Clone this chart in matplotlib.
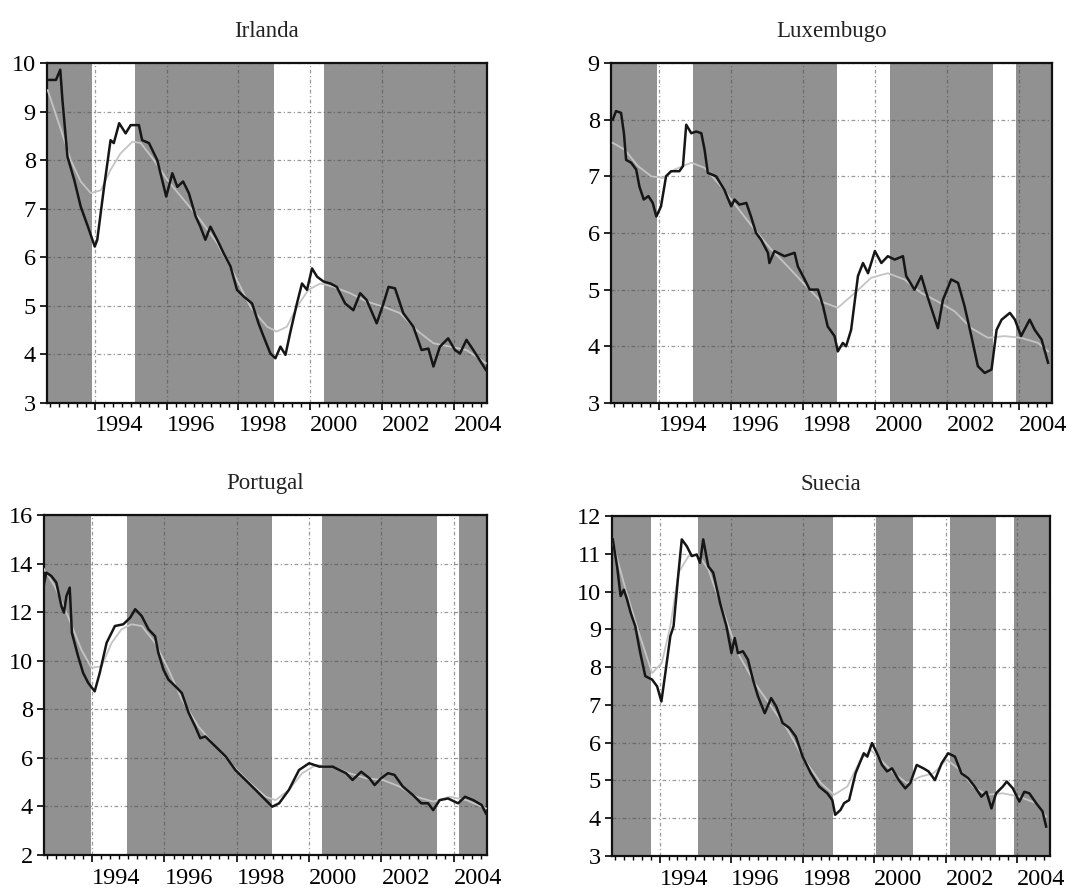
"""Tipos de interés: serie observada y tendencia, cuatro países."""
import matplotlib
matplotlib.use("Agg")
import matplotlib.pyplot as plt
from matplotlib.ticker import MultipleLocator

plt.rcParams["font.family"] = ["Liberation Serif", "DejaVu Serif"]

# Irlanda
irl_t = [1992.69, 1992.92, 1993.04, 1993.10, 1993.24, 1993.43, 1993.61, 1993.81, 1994.00, 1994.07,
         1994.26, 1994.44, 1994.53, 1994.68, 1994.86, 1995.00, 1995.23, 1995.32, 1995.51, 1995.74,
         1995.99, 1996.16, 1996.30, 1996.46, 1996.62, 1996.81, 1996.94, 1997.08, 1997.22, 1997.41,
         1997.59, 1997.78, 1997.96, 1998.15, 1998.38, 1998.56, 1998.70, 1998.89, 1999.03, 1999.17,
         1999.31, 1999.44, 1999.63, 1999.77, 1999.91, 2000.05, 2000.19, 2000.37, 2000.56, 2000.74,
         2000.97, 2001.20, 2001.39, 2001.57, 2001.85, 2002.04, 2002.18, 2002.36, 2002.59, 2002.87,
         2003.10, 2003.29, 2003.43, 2003.61, 2003.84, 2004.03, 2004.17, 2004.35, 2004.54, 2004.72,
         2004.89]
irl_y = [9.65, 9.65, 9.86, 9.24, 8.07, 7.59, 7.04, 6.63, 6.22, 6.36,
         7.45, 8.41, 8.35, 8.76, 8.55, 8.72, 8.72, 8.41, 8.35, 8.00,
         7.25, 7.73, 7.45, 7.56, 7.32, 6.84, 6.63, 6.36, 6.63, 6.36,
         6.08, 5.81, 5.33, 5.19, 5.05, 4.64, 4.37, 4.02, 3.92, 4.16,
         3.99, 4.44, 5.05, 5.46, 5.33, 5.77, 5.60, 5.50, 5.46, 5.39,
         5.05, 4.91, 5.26, 5.12, 4.64, 5.05, 5.39, 5.36, 4.85, 4.57,
         4.09, 4.12, 3.75, 4.16, 4.33, 4.09, 4.02, 4.30, 4.09, 3.88,
         3.68]
irl_trend_t = [1992.69, 1993.06, 1993.33, 1993.61, 1993.89, 1994.17, 1994.44, 1994.72, 1995.05, 1995.28,
               1995.65, 1996.02, 1996.48, 1996.94, 1997.41, 1997.87, 1998.33, 1998.80, 1999.07, 1999.35,
               1999.63, 1999.95, 2000.28, 2000.65, 2001.11, 2001.57, 2002.04, 2002.50, 2002.96, 2003.43,
               2003.89, 2004.35, 2004.89]
irl_trend = [9.44, 8.62, 8.00, 7.56, 7.32, 7.38, 7.80, 8.14, 8.38, 8.35,
             8.00, 7.59, 7.18, 6.77, 6.29, 5.67, 4.98, 4.57, 4.47, 4.57,
             4.98, 5.33, 5.46, 5.39, 5.26, 5.09, 4.98, 4.85, 4.50, 4.23,
             4.16, 4.09, 3.82]
irl_bands = [(1993.93, 1995.11), (1999.00, 2000.39)]

# Luxemburgo
lux_t = [1992.72, 1992.81, 1992.95, 1993.03, 1993.09, 1993.23, 1993.37, 1993.46, 1993.58, 1993.71,
         1993.83, 1993.93, 1994.06, 1994.20, 1994.34, 1994.57, 1994.67, 1994.76, 1994.90, 1995.04,
         1995.18, 1995.27, 1995.36, 1995.59, 1995.82, 1996.01, 1996.10, 1996.24, 1996.43, 1996.56,
         1996.70, 1996.84, 1997.03, 1997.07, 1997.21, 1997.49, 1997.77, 1997.86, 1998.05, 1998.19,
         1998.42, 1998.56, 1998.69, 1998.88, 1998.97, 1999.11, 1999.20, 1999.34, 1999.53, 1999.67,
         1999.81, 2000.00, 2000.18, 2000.36, 2000.55, 2000.78, 2000.87, 2001.10, 2001.29, 2001.43,
         2001.61, 2001.75, 2001.89, 2002.12, 2002.31, 2002.49, 2002.68, 2002.86, 2003.05, 2003.24,
         2003.38, 2003.52, 2003.75, 2003.89, 2004.06, 2004.30, 2004.44, 2004.63, 2004.81]
lux_y = [8.00, 8.15, 8.12, 7.76, 7.29, 7.24, 7.12, 6.82, 6.59, 6.65,
         6.53, 6.29, 6.47, 7.00, 7.09, 7.09, 7.18, 7.91, 7.76, 7.79,
         7.76, 7.47, 7.06, 7.00, 6.76, 6.47, 6.59, 6.50, 6.53, 6.29,
         6.00, 5.88, 5.65, 5.47, 5.68, 5.59, 5.65, 5.41, 5.18, 5.00,
         5.00, 4.71, 4.35, 4.18, 3.91, 4.06, 4.00, 4.29, 5.24, 5.47,
         5.29, 5.68, 5.47, 5.59, 5.53, 5.59, 5.24, 5.00, 5.24, 4.94,
         4.59, 4.32, 4.82, 5.18, 5.12, 4.71, 4.18, 3.65, 3.53, 3.59,
         4.29, 4.47, 4.59, 4.47, 4.18, 4.47, 4.29, 4.12, 3.71]
lux_trend_t = [1992.72, 1993.05, 1993.42, 1993.79, 1994.11, 1994.44, 1994.90, 1995.27, 1995.73, 1996.19,
               1996.66, 1997.12, 1997.58, 1998.05, 1998.51, 1998.97, 1999.44, 1999.90, 2000.36, 2000.82,
               2001.29, 2001.75, 2002.21, 2002.68, 2003.14, 2003.60, 2004.06, 2004.53, 2004.81]
lux_trend = [7.59, 7.47, 7.18, 7.00, 6.97, 7.12, 7.24, 7.15, 6.82, 6.44,
             6.06, 5.71, 5.41, 5.09, 4.79, 4.68, 4.94, 5.21, 5.29, 5.18,
             4.94, 4.79, 4.62, 4.32, 4.15, 4.18, 4.15, 4.06, 3.91]
lux_bands = [(1993.94, 1994.94), (1998.94, 2000.42), (2003.28, 2003.92)]

# Portugal
por_t = [1992.64, 1992.73, 1992.87, 1993.01, 1993.15, 1993.22, 1993.29, 1993.38, 1993.44, 1993.61,
         1993.75, 1993.89, 1994.07, 1994.21, 1994.40, 1994.63, 1994.86, 1995.05, 1995.19, 1995.37,
         1995.56, 1995.74, 1995.83, 1995.97, 1996.11, 1996.30, 1996.48, 1996.67, 1996.85, 1996.99,
         1997.13, 1997.41, 1997.69, 1997.96, 1998.24, 1998.52, 1998.80, 1998.98, 1999.17, 1999.44,
         1999.72, 2000.00, 2000.28, 2000.65, 2001.02, 2001.20, 2001.44, 2001.67, 2001.81, 2001.99,
         2002.18, 2002.36, 2002.59, 2002.87, 2003.10, 2003.29, 2003.43, 2003.61, 2003.84, 2004.12,
         2004.31, 2004.54, 2004.77, 2004.89]
por_y = [12.94, 13.63, 13.49, 13.22, 12.25, 11.98, 12.67, 13.01, 11.15, 10.19,
         9.50, 9.09, 8.74, 9.50, 10.74, 11.43, 11.50, 11.77, 12.12, 11.84,
         11.29, 11.01, 10.33, 9.64, 9.22, 8.95, 8.67, 7.85, 7.29, 6.81,
         6.88, 6.47, 6.06, 5.50, 5.09, 4.68, 4.26, 3.99, 4.13, 4.68,
         5.50, 5.78, 5.64, 5.64, 5.37, 5.09, 5.43, 5.16, 4.88, 5.16,
         5.37, 5.30, 4.82, 4.47, 4.13, 4.13, 3.85, 4.26, 4.33, 4.13,
         4.40, 4.26, 4.06, 3.71]
por_trend_t = [1992.64, 1992.96, 1993.33, 1993.70, 1993.98, 1994.26, 1994.54, 1994.81, 1995.09, 1995.37,
               1995.74, 1996.11, 1996.48, 1996.94, 1997.41, 1997.87, 1998.33, 1998.80, 1999.07, 1999.44,
               1999.81, 2000.19, 2000.65, 2001.11, 2001.57, 2002.04, 2002.50, 2002.96, 2003.43, 2003.89,
               2004.35, 2004.89]
por_trend = [13.84, 13.08, 11.84, 10.46, 9.71, 9.77, 10.74, 11.29, 11.50, 11.43,
             10.74, 9.64, 8.40, 7.29, 6.47, 5.71, 5.02, 4.40, 4.26, 4.68,
             5.37, 5.71, 5.64, 5.37, 5.16, 5.09, 4.82, 4.40, 4.20, 4.40,
             4.26, 3.92]
por_bands = [(1993.97, 1994.95), (1998.97, 2000.36), (2003.53, 2004.14)]

# Suecia
sue_t = [1992.69, 1992.81, 1992.91, 1993.00, 1993.09, 1993.19, 1993.32, 1993.46, 1993.60, 1993.79,
         1993.93, 1994.05, 1994.16, 1994.30, 1994.39, 1994.51, 1994.62, 1994.76, 1994.90, 1995.04,
         1995.13, 1995.22, 1995.36, 1995.50, 1995.69, 1995.87, 1996.01, 1996.10, 1996.19, 1996.33,
         1996.47, 1996.61, 1996.75, 1996.94, 1997.12, 1997.26, 1997.44, 1997.63, 1997.81, 1998.00,
         1998.23, 1998.46, 1998.69, 1998.83, 1998.91, 1999.06, 1999.16, 1999.30, 1999.48, 1999.71,
         1999.81, 1999.94, 2000.08, 2000.22, 2000.36, 2000.50, 2000.69, 2000.87, 2001.01, 2001.19,
         2001.38, 2001.52, 2001.70, 2001.89, 2002.07, 2002.26, 2002.44, 2002.63, 2002.81, 2003.00,
         2003.14, 2003.28, 2003.41, 2003.60, 2003.71, 2003.88, 2004.06, 2004.20, 2004.34, 2004.53,
         2004.71, 2004.81]
sue_y = [11.38, 10.67, 9.88, 10.05, 9.79, 9.44, 9.08, 8.37, 7.76, 7.67,
         7.49, 7.09, 7.84, 8.82, 9.08, 10.32, 11.38, 11.20, 10.94, 10.98,
         10.76, 11.38, 10.67, 10.50, 9.70, 9.08, 8.37, 8.77, 8.37, 8.42,
         8.20, 7.67, 7.23, 6.78, 7.18, 6.96, 6.52, 6.39, 6.16, 5.63,
         5.19, 4.84, 4.66, 4.48, 4.09, 4.22, 4.40, 4.48, 5.19, 5.72,
         5.63, 5.99, 5.72, 5.41, 5.24, 5.32, 5.01, 4.79, 4.93, 5.41,
         5.32, 5.24, 5.01, 5.46, 5.72, 5.63, 5.19, 5.06, 4.84, 4.57,
         4.70, 4.26, 4.66, 4.84, 4.97, 4.79, 4.44, 4.70, 4.66, 4.40,
         4.18, 3.78]
sue_trend_t = [1992.69, 1993.05, 1993.42, 1993.79, 1994.06, 1994.30, 1994.53, 1994.81, 1995.08, 1995.36,
               1995.73, 1996.19, 1996.66, 1997.12, 1997.58, 1998.05, 1998.51, 1998.88, 1999.25, 1999.62,
               1999.90, 2000.18, 2000.55, 2000.92, 2001.29, 2001.66, 2002.03, 2002.40, 2002.77, 2003.14,
               2003.60, 2004.06, 2004.53, 2004.81]
sue_trend = [11.29, 10.05, 8.91, 7.84, 8.11, 9.08, 10.50, 10.94, 10.98, 10.59,
             9.61, 8.37, 7.58, 6.96, 6.34, 5.55, 4.93, 4.62, 4.84, 5.55,
             5.81, 5.55, 5.19, 4.93, 5.10, 5.19, 5.55, 5.28, 4.84, 4.62,
             4.66, 4.57, 4.40, 4.04]
sue_bands = [(1993.75, 1995.08), (1998.86, 2000.06), (2001.08, 2002.11), (2003.42, 2003.92)]

year_ticks = [1994, 1996, 1998, 2000, 2002, 2004]
x_range = (1992.67, 2004.92)

GRAY = "#919191"


def draw_panel(ax, title, t, y, trend_t, trend, bands, ylim, ystep):
    ax.set_facecolor(GRAY)
    for a, b in bands:
        ax.axvspan(a, b, color="white", lw=0, zorder=0.5)
    ax.set_xlim(*x_range)
    ax.set_ylim(*ylim)
    ax.yaxis.set_major_locator(MultipleLocator(ystep))
    ax.set_xticks(year_ticks)
    ax.set_xticklabels([str(v) for v in year_ticks], ha="left")
    ax.xaxis.set_minor_locator(MultipleLocator(0.25))
    ax.grid(True, which="major", color="#4a4a4a", linestyle=(0, (3, 2, 1, 2)),
            linewidth=0.9, alpha=0.55, zorder=1)
    ax.set_axisbelow(True)
    ax.plot(trend_t, trend, color="#c4c4c4", lw=1.3, zorder=3)
    ax.plot(t, y, color="#161616", lw=1.8, zorder=4)
    ax.tick_params(axis="both", which="major", direction="out", length=5, width=1.2,
                   labelsize=17.5, pad=3)
    ax.tick_params(axis="x", which="major", pad=4)
    ax.tick_params(axis="x", which="minor", direction="out", length=3, width=1)
    for s in ax.spines.values():
        s.set_linewidth(1.6)
        s.set_color("#111111")
    ax.set_title(title, fontsize=16.5, pad=19, color="#222222")


fig = plt.figure(figsize=(10.85, 8.89), dpi=100)
ax1 = fig.add_axes([0.0433, 0.5467, 0.4055, 0.3825])
ax2 = fig.add_axes([0.5631, 0.5467, 0.4065, 0.3825])
ax3 = fig.add_axes([0.0406, 0.0382, 0.4083, 0.3825])
ax4 = fig.add_axes([0.5641, 0.0371, 0.4037, 0.3825])

draw_panel(ax1, "Irlanda", irl_t, irl_y, irl_trend_t, irl_trend, irl_bands, (3, 10), 1)
draw_panel(ax2, "Luxembugo", lux_t, lux_y, lux_trend_t, lux_trend, lux_bands, (3, 9), 1)
draw_panel(ax3, "Portugal", por_t, por_y, por_trend_t, por_trend, por_bands, (2, 16), 2)
draw_panel(ax4, "Suecia", sue_t, sue_y, sue_trend_t, sue_trend, sue_bands, (3, 12), 1)

fig.savefig("out.png", dpi=100)
plt.close(fig)
